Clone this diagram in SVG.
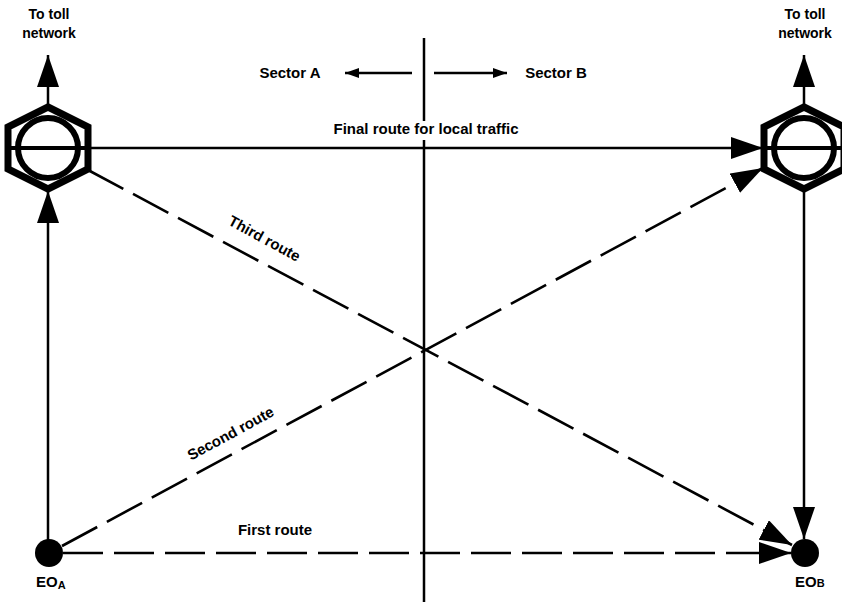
<svg xmlns="http://www.w3.org/2000/svg" width="842" height="602" viewBox="0 0 842 602">
<style>
.t{font-family:"Liberation Sans",Arial,sans-serif;font-weight:bold;font-size:15px;fill:#000}
.s{font-size:14px}
.ln{stroke:#000;stroke-width:2.5;fill:none}
.ds{stroke:#000;stroke-width:2.6;fill:none;stroke-dasharray:40 11}
.hex{stroke:#000;stroke-width:7;fill:#fff;stroke-linejoin:miter}
.cir{stroke:#000;stroke-width:6;fill:#fff}
</style>
<defs>
<marker id="ah" markerUnits="userSpaceOnUse" markerWidth="32" markerHeight="22" refX="32" refY="11" orient="auto">
<path d="M0,0 L32,11 L0,22 z" fill="#000"/>
</marker>
<marker id="sa" markerUnits="userSpaceOnUse" markerWidth="14" markerHeight="10" refX="14" refY="5" orient="auto">
<path d="M0,0 L14,5 L0,10 z" fill="#000"/>
</marker>
</defs>
<rect width="842" height="602" fill="#fff"/>

<g id="connectors">
<line class="ln" x1="424" y1="38" x2="424" y2="121"/>
<line class="ln" x1="424" y1="140" x2="424" y2="602"/>
<line class="ln" x1="412" y1="73" x2="345" y2="73" marker-end="url(#sa)"/>
<line class="ln" x1="434" y1="73" x2="507" y2="73" marker-end="url(#sa)"/>
<line class="ln" x1="48" y1="106" x2="48" y2="55" marker-end="url(#ah)"/>
<line class="ln" x1="804" y1="106" x2="804" y2="55" marker-end="url(#ah)"/>
<line class="ln" x1="91" y1="148" x2="763" y2="148" marker-end="url(#ah)"/>
<line class="ln" x1="48" y1="540" x2="48" y2="191" marker-end="url(#ah)"/>
<line class="ln" x1="804" y1="191" x2="804" y2="539" marker-end="url(#ah)"/>
<line class="ds" x1="88" y1="170" x2="792" y2="545" marker-end="url(#ah)"/>
<line class="ds" x1="62" y1="546" x2="763" y2="168" marker-end="url(#ah)"/>
<line class="ds" x1="63" y1="553" x2="791" y2="553" marker-end="url(#ah)"/>
</g>

<g id="toll-A">
<polygon class="hex" points="48,107 88,127 88,169 48,189 8,169 8,127"/>
<circle class="cir" cx="48" cy="148" r="30"/>
<line x1="8" y1="148" x2="88" y2="148" stroke="#000" stroke-width="4"/>
</g>
<g id="toll-B">
<polygon class="hex" points="804,107 844,127 844,169 804,189 764,169 764,127"/>
<circle class="cir" cx="804" cy="148" r="30"/>
<line x1="764" y1="148" x2="842" y2="148" stroke="#000" stroke-width="4"/>
</g>
<g id="EOA">
<circle cx="49" cy="553" r="14" fill="#000"/>
<text class="t" x="36" y="587">EO<tspan font-size="11" dy="2">A</tspan></text>
</g>
<g id="EOB">
<circle cx="805" cy="553" r="14" fill="#000"/>
<text class="t" x="795" y="587">EO<tspan font-size="11">B</tspan></text>
</g>

<g id="labels">
<text class="t s" x="49" y="19" text-anchor="middle">To toll</text>
<text class="t s" x="49" y="38" text-anchor="middle">network</text>
<text class="t s" x="805" y="19" text-anchor="middle">To toll</text>
<text class="t s" x="805" y="38" text-anchor="middle">network</text>
<text class="t" x="290" y="78" text-anchor="middle">Sector A</text>
<text class="t" x="556" y="78" text-anchor="middle">Sector B</text>
<text class="t" x="426" y="134" text-anchor="middle" font-size="16">Final route for local traffic</text>
<text class="t" x="0" y="0" text-anchor="middle" transform="translate(262,243) rotate(28.5)">Third route</text>
<text class="t" x="0" y="0" text-anchor="middle" transform="translate(233,438) rotate(-28.5)">Second route</text>
<text class="t" x="275" y="535" text-anchor="middle">First route</text>
</g>
</svg>
